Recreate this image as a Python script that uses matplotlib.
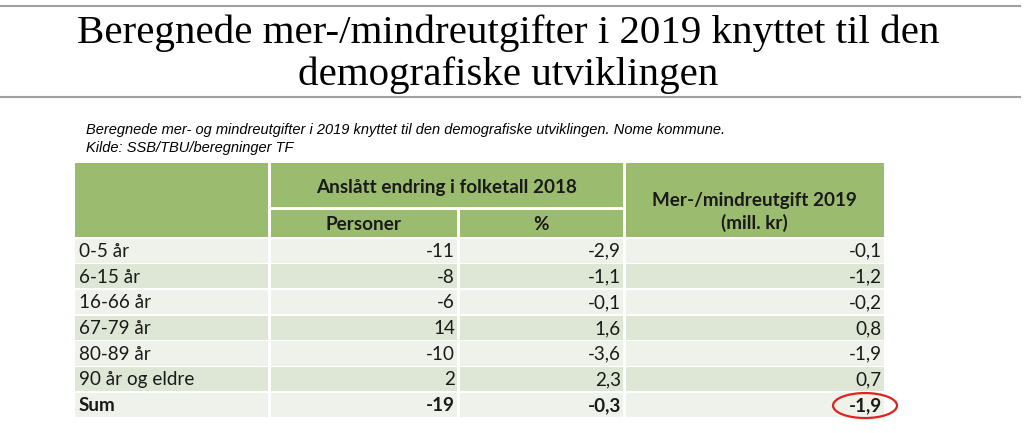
import matplotlib
matplotlib.use("Agg")
import matplotlib.pyplot as plt
from matplotlib.patches import Rectangle, Ellipse

# data from the table
groups = ["0-5 år", "6-15 år", "16-66 år", "67-79 år", "80-89 år", "90 år og eldre", "Sum"]
personer = [-11, -8, -6, 14, -10, 2, -19]
prosent = [-2.9, -1.1, -0.1, 1.6, -3.6, 2.3, -0.3]
utgift = [-0.1, -1.2, -0.2, 0.8, -1.9, 0.7, -1.9]

title_lines = ["Beregnede mer-/mindreutgifter i 2019 knyttet til den",
               "demografiske utviklingen"]
subtitle = ("Beregnede mer- og mindreutgifter i 2019 knyttet til den demografiske utviklingen. Nome kommune.\n"
            "Kilde: SSB/TBU/beregninger TF")

def fmt(v):
    return f"{v:.1f}".replace(".", ",")

# colours
green = "#9bbb6f"
light = "#eff1eb"
dark = "#dee6d5"

fig = plt.figure(figsize=(10.24, 4.33), dpi=100)
ax = fig.add_axes([0, 0, 1, 1])
ax.set_xlim(0, 1024)
ax.set_ylim(433, 0)
ax.axis("off")

# title with rules above and below
ax.plot([0, 1020], [6, 6], color="#a0a0a0", lw=1.5)
ax.plot([0, 1020], [97, 97], color="#a0a0a0", lw=1.5)
for i, line in enumerate(title_lines):
    ax.text(508, 43 + i * 42, line, ha="center", va="baseline", fontsize=29.5,
            family="Liberation Serif")

ax.text(86, 139, subtitle, ha="left", va="center", fontsize=10.5,
        family="Liberation Sans", style="italic", linespacing=1.35)

# table layout (pixel coords)
cols = [75, 269, 458, 624, 884]
gap = 3
head_top, head_mid, head_bot = 163, 208, 237
row_h = 25.7

# header cells
ax.add_patch(Rectangle((cols[0], head_top), cols[1] - cols[0] - gap / 2, head_bot - head_top, color=green, lw=0))
ax.add_patch(Rectangle((cols[1] + gap / 2, head_top), cols[3] - cols[1] - gap, head_mid - head_top - 1.5, color=green, lw=0))
ax.add_patch(Rectangle((cols[1] + gap / 2, head_mid + 1.5), cols[2] - cols[1] - gap, head_bot - head_mid - 1.5, color=green, lw=0))
ax.add_patch(Rectangle((cols[2] + gap / 2, head_mid + 1.5), cols[3] - cols[2] - gap, head_bot - head_mid - 1.5, color=green, lw=0))
ax.add_patch(Rectangle((cols[3] + gap / 2, head_top), cols[4] - cols[3] - gap / 2, head_bot - head_top, color=green, lw=0))

hfont = dict(family="Lato", fontsize=13.6, fontweight="bold", color="#1a1a1a")
ax.text((cols[1] + cols[3]) / 2, 188, "Anslått endring i folketall 2018", ha="center", va="center", **hfont)
ax.text((cols[1] + cols[2]) / 2, 225, "Personer", ha="center", va="center", **hfont)
ax.text((cols[2] + cols[3]) / 2, 225, "%", ha="center", va="center", **hfont)
ax.text((cols[3] + cols[4]) / 2, 212, "Mer-/mindreutgift 2019\n(mill. kr)", ha="center", va="center",
        linespacing=1.3, **hfont)

# body rows
for i, g in enumerate(groups):
    top = head_bot + 1.5 + i * row_h
    fc = light if i % 2 == 0 else dark
    for c in range(4):
        x0 = cols[c] + (gap / 2 if c > 0 else 0)
        x1 = cols[c + 1] - (gap / 2 if c < 3 else 0)
        ax.add_patch(Rectangle((x0, top), x1 - x0, row_h - 1.5, color=fc, lw=0))
    yc = top + row_h / 2
    bold = "bold" if g == "Sum" else "normal"
    tf = dict(family="Lato", fontsize=13.6, fontweight=bold, color="#1a1a1a", va="center")
    ax.text(cols[0] + 4, yc, g, ha="left", **tf)
    ax.text(cols[2] - 3, yc, str(personer[i]), ha="right", **tf)
    ax.text(cols[3] - 3, yc, fmt(prosent[i]), ha="right", **tf)
    ax.text(cols[4] - 2, yc, fmt(utgift[i]), ha="right", **tf)

# red ring round the total
last_y = head_bot + 1.5 + (len(groups) - 0.5) * row_h
ax.add_patch(Ellipse((865, last_y), 64, 25, fill=False, edgecolor="#e3211c", lw=1.6))

fig.savefig("out.png", dpi=100)
